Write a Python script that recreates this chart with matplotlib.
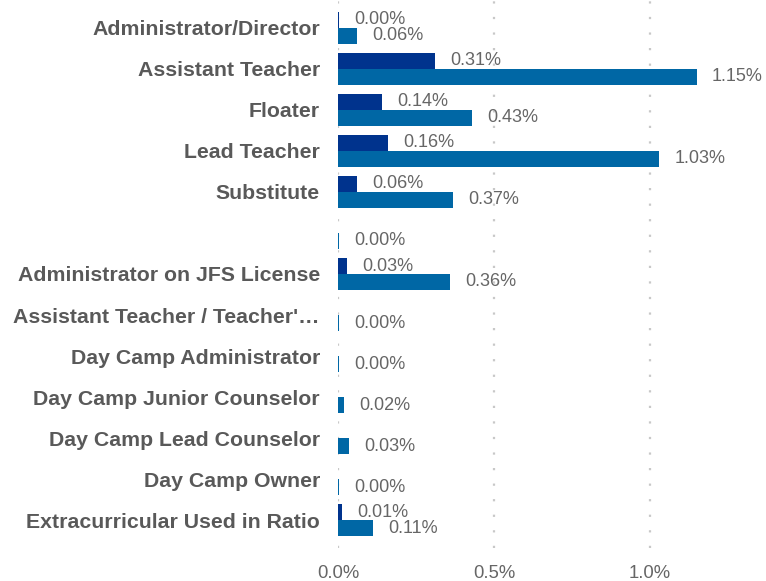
import numpy as np
import matplotlib
matplotlib.use("Agg")
import matplotlib.pyplot as plt

# ---------- Data ----------
categories = [
    "Administrator/Director",
    "Assistant Teacher",
    "Floater",
    "Lead Teacher",
    "Substitute",
    "",
    "Administrator on JFS License",
    "Assistant Teacher / Teacher'\u2026",
    "Day Camp Administrator",
    "Day Camp Junior Counselor",
    "Day Camp Lead Counselor",
    "Day Camp Owner",
    "Extracurricular Used in Ratio",
]
series_dark = [0.004, 0.31, 0.14, 0.16, 0.06, None, 0.03, None, None, None, None, None, 0.012]
series_blue = [0.06, 1.15, 0.43, 1.03, 0.37, 0.004, 0.36, 0.004, 0.004, 0.02, 0.034, 0.004, 0.113]
x_ticks = [0.0, 0.5, 1.0]
x_tick_labels = ["0.0%", "0.5%", "1.0%"]

dark_color = "#00338D"
blue_color = "#0067A5"
text_gray = "#666666"
label_gray = "#595959"

plt.rcParams["font.family"] = ["Liberation Sans", "DejaVu Sans"]

fig = plt.figure(figsize=(7.66, 5.81), dpi=100)
ax = fig.add_axes([338 / 766, 1 - 548 / 581, 428 / 766, 548 / 581])

y = np.arange(len(categories))
h = 0.39

# ---------- Bars ----------
for i in range(len(categories)):
    d = series_dark[i]
    b = series_blue[i]
    if d is not None:
        ax.barh(y[i] - h / 2, d, height=h, color=dark_color)
        ax.annotate(f"{d:.2f}%", (d, y[i] - h / 2), xytext=(11, 0),
                    textcoords="offset points", va="center", ha="left",
                    fontsize=13, color=text_gray)
    if b is not None:
        ax.barh(y[i] + h / 2, b, height=h, color=blue_color)
        ax.annotate(f"{b:.2f}%", (b, y[i] + h / 2), xytext=(11, 0),
                    textcoords="offset points", va="center", ha="left",
                    fontsize=13, color=text_gray)

# ---------- Axes ----------
ax.set_xlim(0, 1.372)
ax.set_ylim(12.68, -0.68)
ax.set_yticks(y)
ax.set_yticklabels(categories, fontsize=15.3, fontweight="bold", color=label_gray)
ax.set_xticks(x_ticks)
ax.set_xticklabels(x_tick_labels, fontsize=13.3, color=text_gray)
ax.tick_params(axis="y", length=0, pad=13)
ax.tick_params(axis="x", length=0, pad=12)

for s in ax.spines.values():
    s.set_visible(False)

for xv in x_ticks:
    ax.axvline(xv, color="#c8c8c8", linestyle=(0, (1, 6)), linewidth=1.6, zorder=0)

fig.savefig("out.png", dpi=100)
